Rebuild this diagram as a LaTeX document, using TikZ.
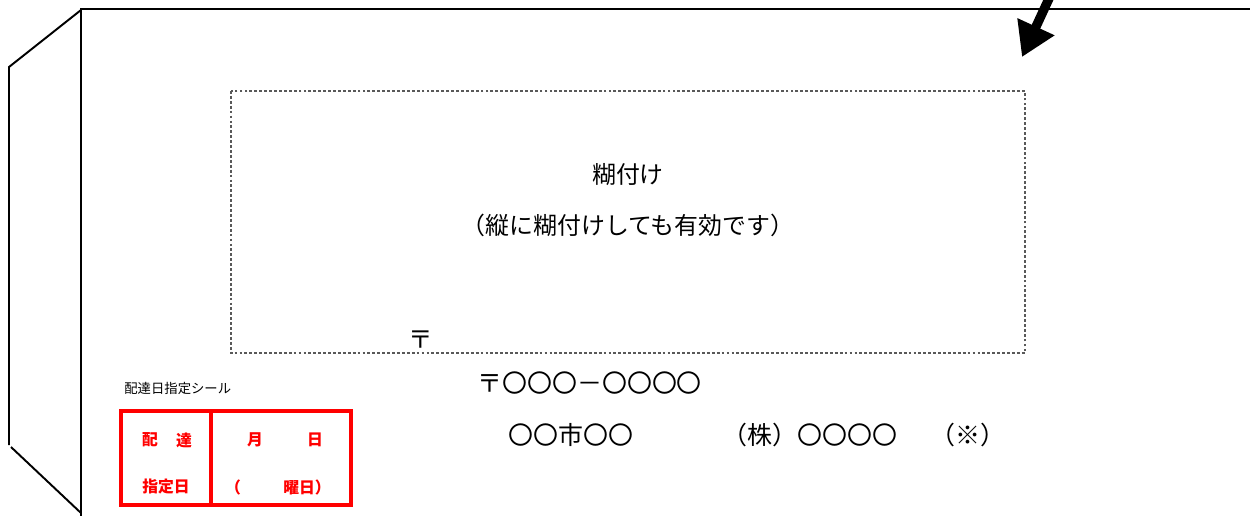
\documentclass[tikz,border=0pt]{standalone}
\usepackage{fontspec}
\setmainfont{Noto Sans CJK JP}
\usetikzlibrary{arrows.meta}
\begin{document}
\begin{tikzpicture}[x=0.02cm,y=-0.02cm,
  env/.style={line width=1.1pt,black},
  paste/.style={line width=0.6pt,gray!70!black,dash pattern=on 1.6pt off 1.2pt},
  redbox/.style={draw=red,line width=2.3pt},
  big/.style={inner sep=0pt,anchor=center,font=\fontsize{13.6pt}{15pt}\selectfont},
  addr/.style={inner sep=0pt,anchor=west,font=\fontsize{14.2pt}{16pt}\selectfont},
  redtxt/.style={inner sep=0pt,anchor=center,text=red,font=\fontsize{9pt}{10pt}\selectfont\bfseries},
  small/.style={inner sep=0pt,anchor=west,font=\fontsize{7.6pt}{9pt}\selectfont}]
\useasboundingbox (0,0) rectangle (1250,515);
\clip (0,0) rectangle (1250,515);
% envelope
\draw[env] (1260,9) -- (81,9) -- (81,520);
\draw[env] (81,10) -- (9,67) -- (9,445);
\draw[env] (11,447) -- (81,513);
% arrow
\coordinate (arrS) at (1052,-8);
\coordinate (arrT) at (1022,57);
\draw[line width=5.3pt,-{Triangle[length=19pt,width=22pt]}] (arrS) -- (arrT);
% paste area
\draw[paste] (231,91) rectangle (1025,353);
\node[big] (t1) at (628,175) {糊付け};
\node[big] (t2) at (628,225) {（縦に糊付けしても有効です）};
\node[inner sep=0pt,font=\fontsize{14pt}{16pt}\selectfont] (pm) at (421,340) {〒};
% address
\node[addr] (zip) at (477,383) {〒〇〇〇－〇〇〇〇};
\node[addr] (city) at (508,435) {〇〇市〇〇};
\node[addr] (co) at (722,435) {（株）〇〇〇〇};
\node[addr] (note) at (930,435) {（※）};
% seal
\node[small] (seal) at (124,388) {配達日指定シール};
\draw[redbox] (121,411) rectangle (351,505);
\draw[redbox] (211,411) -- (211,505);
\node[redtxt] (r1) at (150,440) {配};
\node[redtxt] (r2) at (184,440) {達};
\node[redtxt] (r3) at (166,487) {指定日};
\node[redtxt] (r4) at (255,440) {月};
\node[redtxt] (r5) at (315,440) {日};
\node[redtxt] (r6) at (233,487) {（};
\node[redtxt] (r7) at (307,487) {曜日）};
\end{tikzpicture}
\end{document}
